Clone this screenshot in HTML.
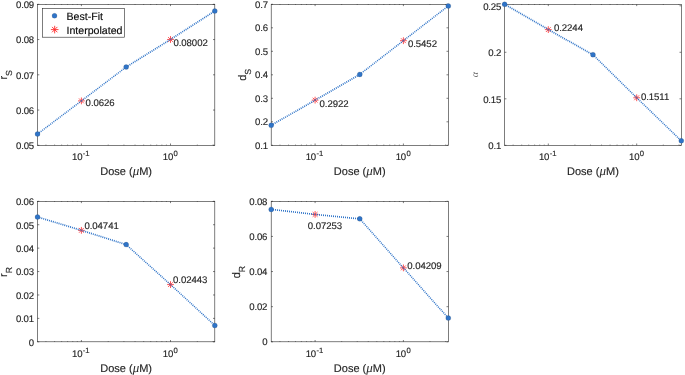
<!DOCTYPE html>
<html><head><meta charset="utf-8"><title>Dose plots</title>
<style>html,body{margin:0;padding:0;background:#fff;}body{width:685px;height:375px;overflow:hidden;font-family:"Liberation Sans",sans-serif;}svg{display:block;will-change:transform}svg text{text-rendering:geometricPrecision}</style>
</head><body>
<svg width="685" height="375" viewBox="0 0 685 375" font-family="Liberation Sans, sans-serif" font-size="9.6" fill="#262626" stroke="#262626" stroke-width="0.15" letter-spacing="-0.17">
<rect width="685" height="375" fill="#fff" stroke="none"/>
<rect x="37.5" y="4.3" width="177.30" height="141.00" fill="none" stroke="#262626" stroke-width="0.6"/>
<path d="M81.40 145.3v-1.8M81.40 4.3v1.8M170.50 145.3v-1.8M170.50 4.3v1.8M45.94 145.3v-0.7M45.94 4.3v0.7M54.58 145.3v-0.7M54.58 4.3v0.7M61.63 145.3v-0.7M61.63 4.3v0.7M67.60 145.3v-0.7M67.60 4.3v0.7M72.77 145.3v-0.7M72.77 4.3v0.7M77.32 145.3v-0.7M77.32 4.3v0.7M108.22 145.3v-0.7M108.22 4.3v0.7M123.91 145.3v-0.7M123.91 4.3v0.7M135.04 145.3v-0.7M135.04 4.3v0.7M143.68 145.3v-0.7M143.68 4.3v0.7M150.73 145.3v-0.7M150.73 4.3v0.7M156.70 145.3v-0.7M156.70 4.3v0.7M161.87 145.3v-0.7M161.87 4.3v0.7M166.42 145.3v-0.7M166.42 4.3v0.7M197.32 145.3v-0.7M197.32 4.3v0.7M213.01 145.3v-0.7M213.01 4.3v0.7M37.5 145.30h1.8M214.8 145.30h-1.8M37.5 110.05h1.8M214.8 110.05h-1.8M37.5 74.80h1.8M214.8 74.80h-1.8M37.5 39.55h1.8M214.8 39.55h-1.8M37.5 4.30h1.8M214.8 4.30h-1.8" stroke="#262626" stroke-width="0.6" fill="none"/>
<text x="34.00" y="149.00" text-anchor="end">0.05</text>
<text x="34.00" y="113.75" text-anchor="end">0.06</text>
<text x="34.00" y="78.50" text-anchor="end">0.07</text>
<text x="34.00" y="43.25" text-anchor="end">0.08</text>
<text x="34.00" y="8.00" text-anchor="end">0.09</text>
<text x="80.80" y="160.40" text-anchor="middle">10<tspan font-size="7.7" dy="-4.3" dx="0.4" letter-spacing="0">-1</tspan></text>
<text x="170.30" y="160.40" text-anchor="middle">10<tspan font-size="7.7" dy="-4.3" dx="0.4" letter-spacing="0">0</tspan></text>
<text x="126.15" y="174.70" text-anchor="middle" font-size="11" letter-spacing="0">Dose (<tspan font-style="italic" font-size="13" font-family="Liberation Serif, serif" stroke="none">μ</tspan>M)</text>
<text transform="translate(6.90,74.80) rotate(-90)" text-anchor="middle" font-size="11" letter-spacing="0">r<tspan font-size="8.8" dy="5">S</tspan></text>
<path d="M78.00 100.89L84.80 100.89M79.00 98.48L83.80 103.29M81.40 97.48L81.40 104.29M83.80 98.48L79.00 103.29" stroke="#ff2a2a" stroke-width="0.8" fill="none"/>
<text x="85.60" y="105.89" letter-spacing="-0.05">0.0626</text>
<path d="M167.10 39.48L173.90 39.48M168.10 37.08L172.90 41.88M170.50 36.08L170.50 42.88M172.90 37.08L168.10 41.88" stroke="#ff2a2a" stroke-width="0.8" fill="none"/>
<text x="173.40" y="45.78" letter-spacing="-0.05">0.08002</text>
<path d="M37.50 134.02L81.40 100.89" stroke="#2f74c8" stroke-width="1.5" stroke-dasharray="1 1" stroke-dashoffset="0.000" fill="none"/>
<path d="M81.40 100.89L126.15 67.05" stroke="#2f74c8" stroke-width="1.5" stroke-dasharray="1 1" stroke-dashoffset="0.000" fill="none"/>
<path d="M126.15 67.05L170.50 39.48" stroke="#2f74c8" stroke-width="1.7" stroke-dasharray="1 1" stroke-dashoffset="0.000" fill="none"/>
<path d="M170.50 39.48L214.80 11.00" stroke="#2f74c8" stroke-width="1.7" stroke-dasharray="1 1" stroke-dashoffset="0.000" fill="none"/>
<circle cx="37.50" cy="134.02" r="2.5" fill="#2f74c8"/>
<circle cx="126.15" cy="67.05" r="2.5" fill="#2f74c8"/>
<circle cx="214.80" cy="11.00" r="2.5" fill="#2f74c8"/>
<rect x="42.4" y="8.5" width="82.2" height="28.7" fill="#fff" stroke="#262626" stroke-width="0.6"/>
<circle cx="54.5" cy="15.8" r="2.5" fill="#2f74c8"/>
<path d="M50.90 29.60L58.50 29.60M52.01 26.91L57.39 32.29M54.70 25.80L54.70 33.40M57.39 26.91L52.01 32.29" stroke="#ff2a2a" stroke-width="0.9" fill="none"/>
<text x="66.5" y="20.3" font-size="10.6" fill="#000" letter-spacing="0">Best-Fit</text>
<text x="66.5" y="34.1" font-size="10.6" fill="#000" letter-spacing="0">Interpolated</text>
<rect x="271.2" y="4.3" width="177.10" height="141.00" fill="none" stroke="#262626" stroke-width="0.6"/>
<path d="M315.10 145.3v-1.8M315.10 4.3v1.8M403.40 145.3v-1.8M403.40 4.3v1.8M279.96 145.3v-0.7M279.96 4.3v0.7M288.52 145.3v-0.7M288.52 4.3v0.7M295.51 145.3v-0.7M295.51 4.3v0.7M301.42 145.3v-0.7M301.42 4.3v0.7M306.54 145.3v-0.7M306.54 4.3v0.7M311.06 145.3v-0.7M311.06 4.3v0.7M341.68 145.3v-0.7M341.68 4.3v0.7M357.23 145.3v-0.7M357.23 4.3v0.7M368.26 145.3v-0.7M368.26 4.3v0.7M376.82 145.3v-0.7M376.82 4.3v0.7M383.81 145.3v-0.7M383.81 4.3v0.7M389.72 145.3v-0.7M389.72 4.3v0.7M394.84 145.3v-0.7M394.84 4.3v0.7M399.36 145.3v-0.7M399.36 4.3v0.7M429.98 145.3v-0.7M429.98 4.3v0.7M445.53 145.3v-0.7M445.53 4.3v0.7M271.2 145.30h1.8M448.3 145.30h-1.8M271.2 121.80h1.8M448.3 121.80h-1.8M271.2 98.30h1.8M448.3 98.30h-1.8M271.2 74.80h1.8M448.3 74.80h-1.8M271.2 51.30h1.8M448.3 51.30h-1.8M271.2 27.80h1.8M448.3 27.80h-1.8M271.2 4.30h1.8M448.3 4.30h-1.8" stroke="#262626" stroke-width="0.6" fill="none"/>
<text x="267.90" y="148.55" text-anchor="end">0.1</text>
<text x="267.90" y="125.05" text-anchor="end">0.2</text>
<text x="267.90" y="101.55" text-anchor="end">0.3</text>
<text x="267.90" y="78.05" text-anchor="end">0.4</text>
<text x="267.90" y="54.55" text-anchor="end">0.5</text>
<text x="267.90" y="31.05" text-anchor="end">0.6</text>
<text x="267.90" y="7.55" text-anchor="end">0.7</text>
<text x="314.50" y="160.40" text-anchor="middle">10<tspan font-size="7.7" dy="-4.3" dx="0.4" letter-spacing="0">-1</tspan></text>
<text x="403.20" y="160.40" text-anchor="middle">10<tspan font-size="7.7" dy="-4.3" dx="0.4" letter-spacing="0">0</tspan></text>
<text x="359.75" y="174.70" text-anchor="middle" font-size="11" letter-spacing="0">Dose (<tspan font-style="italic" font-size="13" font-family="Liberation Serif, serif" stroke="none">μ</tspan>M)</text>
<text transform="translate(245.80,74.80) rotate(-90)" text-anchor="middle" font-size="11" letter-spacing="0">d<tspan font-size="8.8" dy="5">S</tspan></text>
<path d="M311.70 100.13L318.50 100.13M312.70 97.73L317.50 102.54M315.10 96.73L315.10 103.53M317.50 97.73L312.70 102.54" stroke="#ff2a2a" stroke-width="0.8" fill="none"/>
<text x="319.50" y="106.83" letter-spacing="-0.05">0.2922</text>
<path d="M400.00 40.68L406.80 40.68M401.00 38.27L405.80 43.08M403.40 37.28L403.40 44.08M405.80 38.27L401.00 43.08" stroke="#ff2a2a" stroke-width="0.8" fill="none"/>
<text x="407.90" y="46.58" letter-spacing="-0.05">0.5452</text>
<path d="M271.20 125.33L315.10 100.13" stroke="#2f74c8" stroke-width="1.7" stroke-dasharray="1 1" stroke-dashoffset="0.000" fill="none"/>
<path d="M315.10 100.13L359.75 74.45" stroke="#2f74c8" stroke-width="1.7" stroke-dasharray="1 1" stroke-dashoffset="0.000" fill="none"/>
<path d="M359.75 74.45L403.40 40.68" stroke="#2f74c8" stroke-width="1.5" stroke-dasharray="1 1" stroke-dashoffset="0.000" fill="none"/>
<path d="M403.40 40.68L448.30 5.95" stroke="#2f74c8" stroke-width="1.5" stroke-dasharray="1 1" stroke-dashoffset="0.000" fill="none"/>
<circle cx="271.20" cy="125.33" r="2.5" fill="#2f74c8"/>
<circle cx="359.75" cy="74.45" r="2.5" fill="#2f74c8"/>
<circle cx="448.30" cy="5.95" r="2.5" fill="#2f74c8"/>
<rect x="504.6" y="4.3" width="176.70" height="141.00" fill="none" stroke="#262626" stroke-width="0.6"/>
<path d="M548.30 145.3v-1.8M548.30 4.3v1.8M636.70 145.3v-1.8M636.70 4.3v1.8M513.12 145.3v-0.7M513.12 4.3v0.7M521.69 145.3v-0.7M521.69 4.3v0.7M528.69 145.3v-0.7M528.69 4.3v0.7M534.61 145.3v-0.7M534.61 4.3v0.7M539.73 145.3v-0.7M539.73 4.3v0.7M544.26 145.3v-0.7M544.26 4.3v0.7M574.91 145.3v-0.7M574.91 4.3v0.7M590.48 145.3v-0.7M590.48 4.3v0.7M601.52 145.3v-0.7M601.52 4.3v0.7M610.09 145.3v-0.7M610.09 4.3v0.7M617.09 145.3v-0.7M617.09 4.3v0.7M623.01 145.3v-0.7M623.01 4.3v0.7M628.13 145.3v-0.7M628.13 4.3v0.7M632.66 145.3v-0.7M632.66 4.3v0.7M663.31 145.3v-0.7M663.31 4.3v0.7M678.88 145.3v-0.7M678.88 4.3v0.7M504.6 145.30h1.8M681.3 145.30h-1.8M504.6 98.80h1.8M681.3 98.80h-1.8M504.6 52.29h1.8M681.3 52.29h-1.8M504.6 5.79h1.8M681.3 5.79h-1.8" stroke="#262626" stroke-width="0.6" fill="none"/>
<text x="501.20" y="149.05" text-anchor="end">0.1</text>
<text x="501.20" y="102.55" text-anchor="end">0.15</text>
<text x="501.20" y="56.04" text-anchor="end">0.2</text>
<text x="501.20" y="9.54" text-anchor="end">0.25</text>
<text x="547.70" y="160.40" text-anchor="middle">10<tspan font-size="7.7" dy="-4.3" dx="0.4" letter-spacing="0">-1</tspan></text>
<text x="636.50" y="160.40" text-anchor="middle">10<tspan font-size="7.7" dy="-4.3" dx="0.4" letter-spacing="0">0</tspan></text>
<text x="592.95" y="174.70" text-anchor="middle" font-size="11" letter-spacing="0">Dose (<tspan font-style="italic" font-size="13" font-family="Liberation Serif, serif" stroke="none">μ</tspan>M)</text>
<text transform="translate(478.00,74.80) rotate(-90)" text-anchor="middle" font-size="10" font-style="italic" font-family="Liberation Serif, serif" fill="#666" stroke="none">α</text>
<path d="M544.90 29.60L551.70 29.60M545.90 27.19L550.70 32.00M548.30 26.20L548.30 33.00M550.70 27.19L545.90 32.00" stroke="#ff2a2a" stroke-width="0.8" fill="none"/>
<text x="553.90" y="30.80" letter-spacing="-0.05">0.2244</text>
<path d="M633.30 97.77L640.10 97.77M634.30 95.37L639.10 100.18M636.70 94.37L636.70 101.17M639.10 95.37L634.30 100.18" stroke="#ff2a2a" stroke-width="0.8" fill="none"/>
<text x="640.90" y="99.97" letter-spacing="-0.05">0.1511</text>
<path d="M504.60 4.30L548.30 29.60" stroke="#2f74c8" stroke-width="1.7" stroke-dasharray="1 1" stroke-dashoffset="0.000" fill="none"/>
<path d="M548.30 29.60L592.95 54.71" stroke="#2f74c8" stroke-width="1.7" stroke-dasharray="1 1" stroke-dashoffset="0.000" fill="none"/>
<path d="M592.95 54.71L636.70 97.77" stroke="#2f74c8" stroke-width="1.5" stroke-dasharray="1 1" stroke-dashoffset="0.000" fill="none"/>
<path d="M636.70 97.77L681.30 140.84" stroke="#2f74c8" stroke-width="1.5" stroke-dasharray="1 1" stroke-dashoffset="0.000" fill="none"/>
<circle cx="504.60" cy="4.30" r="2.5" fill="#2f74c8"/>
<circle cx="592.95" cy="54.71" r="2.5" fill="#2f74c8"/>
<circle cx="681.30" cy="140.84" r="2.5" fill="#2f74c8"/>
<rect x="37.5" y="201.3" width="177.30" height="140.50" fill="none" stroke="#262626" stroke-width="0.6"/>
<path d="M81.40 341.8v-1.8M81.40 201.3v1.8M170.50 341.8v-1.8M170.50 201.3v1.8M45.94 341.8v-0.7M45.94 201.3v0.7M54.58 341.8v-0.7M54.58 201.3v0.7M61.63 341.8v-0.7M61.63 201.3v0.7M67.60 341.8v-0.7M67.60 201.3v0.7M72.77 341.8v-0.7M72.77 201.3v0.7M77.32 341.8v-0.7M77.32 201.3v0.7M108.22 341.8v-0.7M108.22 201.3v0.7M123.91 341.8v-0.7M123.91 201.3v0.7M135.04 341.8v-0.7M135.04 201.3v0.7M143.68 341.8v-0.7M143.68 201.3v0.7M150.73 341.8v-0.7M150.73 201.3v0.7M156.70 341.8v-0.7M156.70 201.3v0.7M161.87 341.8v-0.7M161.87 201.3v0.7M166.42 341.8v-0.7M166.42 201.3v0.7M197.32 341.8v-0.7M197.32 201.3v0.7M213.01 341.8v-0.7M213.01 201.3v0.7M37.5 341.80h1.8M214.8 341.80h-1.8M37.5 318.38h1.8M214.8 318.38h-1.8M37.5 294.97h1.8M214.8 294.97h-1.8M37.5 271.55h1.8M214.8 271.55h-1.8M37.5 248.13h1.8M214.8 248.13h-1.8M37.5 224.72h1.8M214.8 224.72h-1.8M37.5 201.30h1.8M214.8 201.30h-1.8" stroke="#262626" stroke-width="0.6" fill="none"/>
<text x="33.90" y="345.70" text-anchor="end">0</text>
<text x="33.90" y="322.28" text-anchor="end">0.01</text>
<text x="33.90" y="298.87" text-anchor="end">0.02</text>
<text x="33.90" y="275.45" text-anchor="end">0.03</text>
<text x="33.90" y="252.03" text-anchor="end">0.04</text>
<text x="33.90" y="228.62" text-anchor="end">0.05</text>
<text x="33.90" y="205.20" text-anchor="end">0.06</text>
<text x="80.80" y="357.20" text-anchor="middle">10<tspan font-size="7.7" dy="-4.3" dx="0.4" letter-spacing="0">-1</tspan></text>
<text x="170.30" y="357.20" text-anchor="middle">10<tspan font-size="7.7" dy="-4.3" dx="0.4" letter-spacing="0">0</tspan></text>
<text x="126.15" y="371.80" text-anchor="middle" font-size="11" letter-spacing="0">Dose (<tspan font-style="italic" font-size="13" font-family="Liberation Serif, serif" stroke="none">μ</tspan>M)</text>
<text transform="translate(6.80,271.95) rotate(-90)" text-anchor="middle" font-size="11" letter-spacing="0">r<tspan font-size="8.8" dy="5">R</tspan></text>
<path d="M78.00 230.34L84.80 230.34M79.00 227.93L83.80 232.74M81.40 226.94L81.40 233.74M83.80 227.93L79.00 232.74" stroke="#ff2a2a" stroke-width="0.8" fill="none"/>
<text x="84.40" y="228.64" letter-spacing="-0.05">0.04741</text>
<path d="M167.10 284.59L173.90 284.59M168.10 282.19L172.90 287.00M170.50 281.19L170.50 287.99M172.90 282.19L168.10 287.00" stroke="#ff2a2a" stroke-width="0.8" fill="none"/>
<text x="173.00" y="283.49" letter-spacing="-0.05">0.02443</text>
<path d="M37.50 216.99L81.40 230.34" stroke="#2f74c8" stroke-width="1.7" stroke-dasharray="1 1" stroke-dashoffset="0.000" fill="none"/>
<path d="M81.40 230.34L126.15 244.62" stroke="#2f74c8" stroke-width="1.7" stroke-dasharray="1 1" stroke-dashoffset="0.000" fill="none"/>
<path d="M126.15 244.62L170.50 284.59" stroke="#2f74c8" stroke-width="1.5" stroke-dasharray="1 1" stroke-dashoffset="0.000" fill="none"/>
<path d="M170.50 284.59L214.80 325.41" stroke="#2f74c8" stroke-width="1.5" stroke-dasharray="1 1" stroke-dashoffset="0.000" fill="none"/>
<circle cx="37.50" cy="216.99" r="2.5" fill="#2f74c8"/>
<circle cx="126.15" cy="244.62" r="2.5" fill="#2f74c8"/>
<circle cx="214.80" cy="325.41" r="2.5" fill="#2f74c8"/>
<rect x="271.2" y="201.3" width="177.10" height="140.50" fill="none" stroke="#262626" stroke-width="0.6"/>
<path d="M315.10 341.8v-1.8M315.10 201.3v1.8M403.40 341.8v-1.8M403.40 201.3v1.8M279.96 341.8v-0.7M279.96 201.3v0.7M288.52 341.8v-0.7M288.52 201.3v0.7M295.51 341.8v-0.7M295.51 201.3v0.7M301.42 341.8v-0.7M301.42 201.3v0.7M306.54 341.8v-0.7M306.54 201.3v0.7M311.06 341.8v-0.7M311.06 201.3v0.7M341.68 341.8v-0.7M341.68 201.3v0.7M357.23 341.8v-0.7M357.23 201.3v0.7M368.26 341.8v-0.7M368.26 201.3v0.7M376.82 341.8v-0.7M376.82 201.3v0.7M383.81 341.8v-0.7M383.81 201.3v0.7M389.72 341.8v-0.7M389.72 201.3v0.7M394.84 341.8v-0.7M394.84 201.3v0.7M399.36 341.8v-0.7M399.36 201.3v0.7M429.98 341.8v-0.7M429.98 201.3v0.7M445.53 341.8v-0.7M445.53 201.3v0.7M271.2 341.80h1.8M448.3 341.80h-1.8M271.2 306.68h1.8M448.3 306.68h-1.8M271.2 271.55h1.8M448.3 271.55h-1.8M271.2 236.43h1.8M448.3 236.43h-1.8M271.2 201.30h1.8M448.3 201.30h-1.8" stroke="#262626" stroke-width="0.6" fill="none"/>
<text x="267.30" y="345.30" text-anchor="end">0</text>
<text x="267.30" y="310.18" text-anchor="end">0.02</text>
<text x="267.30" y="275.05" text-anchor="end">0.04</text>
<text x="267.30" y="239.93" text-anchor="end">0.06</text>
<text x="267.30" y="204.80" text-anchor="end">0.08</text>
<text x="314.50" y="357.20" text-anchor="middle">10<tspan font-size="7.7" dy="-4.3" dx="0.4" letter-spacing="0">-1</tspan></text>
<text x="403.20" y="357.20" text-anchor="middle">10<tspan font-size="7.7" dy="-4.3" dx="0.4" letter-spacing="0">0</tspan></text>
<text x="359.75" y="371.80" text-anchor="middle" font-size="11" letter-spacing="0">Dose (<tspan font-style="italic" font-size="13" font-family="Liberation Serif, serif" stroke="none">μ</tspan>M)</text>
<text transform="translate(239.90,272.05) rotate(-90)" text-anchor="middle" font-size="11" letter-spacing="0">d<tspan font-size="8.8" dy="5">R</tspan></text>
<path d="M311.70 214.42L318.50 214.42M312.70 212.02L317.50 216.82M315.10 211.02L315.10 217.82M317.50 212.02L312.70 216.82" stroke="#ff2a2a" stroke-width="0.8" fill="none"/>
<text x="307.80" y="228.62" letter-spacing="-0.05">0.07253</text>
<path d="M400.00 267.88L406.80 267.88M401.00 265.48L405.80 270.28M403.40 264.48L403.40 271.28M405.80 265.48L401.00 270.28" stroke="#ff2a2a" stroke-width="0.8" fill="none"/>
<text x="407.30" y="268.58" letter-spacing="-0.05">0.04209</text>
<path d="M271.20 209.38L315.10 214.42" stroke="#2f74c8" stroke-width="1.7" stroke-dasharray="1.0066 1.0066" stroke-dashoffset="0.201" fill="none"/>
<path d="M315.10 214.42L359.75 218.86" stroke="#2f74c8" stroke-width="1.7" stroke-dasharray="1.0049 1.0049" stroke-dashoffset="0.100" fill="none"/>
<path d="M359.75 218.86L403.40 267.88" stroke="#2f74c8" stroke-width="1.5" stroke-dasharray="1 1" stroke-dashoffset="0.000" fill="none"/>
<path d="M403.40 267.88L448.30 318.09" stroke="#2f74c8" stroke-width="1.5" stroke-dasharray="1 1" stroke-dashoffset="0.000" fill="none"/>
<circle cx="271.20" cy="209.38" r="2.5" fill="#2f74c8"/>
<circle cx="359.75" cy="218.86" r="2.5" fill="#2f74c8"/>
<circle cx="448.30" cy="318.09" r="2.5" fill="#2f74c8"/>
</svg>
</body></html>
